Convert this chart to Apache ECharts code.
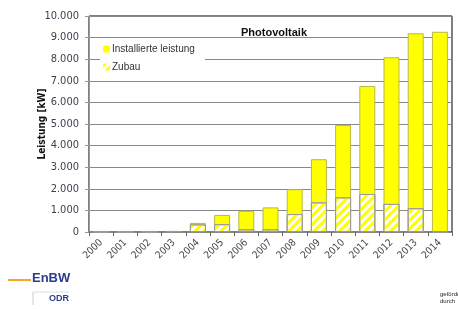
<!DOCTYPE html>
<html>
<head>
<meta charset="utf-8">
<script src="https://cdn.jsdelivr.net/npm/echarts@6/dist/echarts.min.js"></script>
<style>
  html, body { margin: 0; padding: 0; background: #fff; }
  #main { width: 458px; height: 309px; }
</style>
</head>
<body>
<div id="main"></div>
<script>
// Daten
var years = ['2000','2001','2002','2003','2004','2005','2006','2007','2008','2009','2010','2011','2012','2013','2014'];
var installiert = [0, 0, 0, 50, 420, 790, 980, 1140, 1980, 3370, 4950, 6760, 8090, 9200, 9270];
var zubau = [0, 0, 0, 40, 350, 360, 120, 120, 830, 1370, 1600, 1760, 1300, 1100, 0];
var yTicks = [0, 1000, 2000, 3000, 4000, 5000, 6000, 7000, 8000, 9000, 10000];

var fontFam = '"Liberation Sans", Arial, sans-serif';
var narrowFam = '"Liberation Sans Narrow", "DejaVu Sans Condensed", sans-serif';

function fmt(v) {
  return v === 0 ? '0' : (v / 1000).toFixed(0) + '.000';
}

var myChart = echarts.init(document.getElementById('main'));
var option = {
  animation: false,
  title: {
    text: 'Photovoltaik',
    left: 236, top: 22,
    textStyle: { fontSize: 11, fontWeight: 'bold', color: '#111', fontFamily: fontFam }
  },
  legend: {
    orient: 'vertical',
    left: 100, top: 42,
    itemWidth: 7, itemHeight: 7, itemGap: 8,
    backgroundColor: '#fff',
    padding: [2, 10, 2, 3],
    itemStyle: { borderWidth: 0 },
    textStyle: { fontSize: 10, color: '#333', fontFamily: fontFam, padding: [0, 0, 0, -3] },
    data: ['Installierte leistung', 'Zubau']
  },
  grid: {
    left: 89, right: 6, top: 16, bottom: 77,
    show: true, borderColor: '#000', borderWidth: 1
  },
  xAxis: {
    type: 'category',
    data: years,
    boundaryGap: true,
    axisLine: { lineStyle: { color: '#888' } },
    axisTick: { show: true, length: 4, lineStyle: { color: '#666' } },
    axisLabel: { rotate: 45, fontSize: 10, color: '#444', margin: 9, fontFamily: narrowFam }
  },
  yAxis: {
    type: 'value',
    min: 0, max: 10000, interval: 1000,
    name: 'Leistung [kW]',
    nameLocation: 'middle',
    nameGap: 42,
    nameMoveOverlap: false,
    nameTextStyle: { fontSize: 10, fontWeight: 'bold', color: '#111', fontFamily: narrowFam },
    axisLine: { show: true, lineStyle: { color: '#999' } },
    axisTick: { show: true, length: 4, lineStyle: { color: '#999' } },
    axisLabel: {
      fontSize: 11, color: '#404050', margin: 10, fontFamily: narrowFam,
      formatter: function (v) { return yTicks.indexOf(v) >= 0 ? fmt(v) : ''; }
    },
    splitLine: { lineStyle: { color: '#888', width: 1 } }
  },
  series: [
    {
      name: 'Installierte leistung',
      type: 'bar',
      data: installiert,
      barWidth: '66%',
      itemStyle: { color: '#ffff00', borderColor: '#b8b84a', borderWidth: 1 }
    },
    {
      name: 'Zubau',
      type: 'bar',
      data: zubau,
      barWidth: '66%',
      barGap: '-100%',
      itemStyle: {
        color: '#ffffff',
        borderColor: '#999',
        borderWidth: 1,
        decal: {
          symbol: 'rect',
          color: '#ffff00',
          dashArrayX: [1, 0],
          dashArrayY: [3, 3],
          rotation: -Math.PI / 4
        }
      }
    }
  ],
  graphic: [
    { type: 'line', shape: { x1: 8, y1: 280, x2: 31, y2: 280 }, style: { stroke: '#f5a623', lineWidth: 2 } },
    { type: 'text', left: 32, top: 272, style: { text: 'EnBW', fontSize: 13, fontWeight: 'bold', fill: '#2b3d8f', fontFamily: fontFam } },
    { type: 'line', shape: { x1: 33, y1: 292, x2: 33, y2: 305 }, style: { stroke: '#ccc', lineWidth: 1 } },
    { type: 'line', shape: { x1: 33, y1: 292, x2: 69, y2: 292 }, style: { stroke: '#ddd', lineWidth: 1 } },
    { type: 'text', left: 49, top: 294, style: { text: 'ODR', fontSize: 9, fontWeight: 'bold', fill: '#2b3d8f', fontFamily: fontFam } },
    { type: 'text', left: 440, top: 291, style: { text: 'gefördert\ndurch', fontSize: 6, fill: '#222', lineHeight: 7, fontFamily: fontFam } }
  ]
};
myChart.setOption(option);
</script>
</body>
</html>
